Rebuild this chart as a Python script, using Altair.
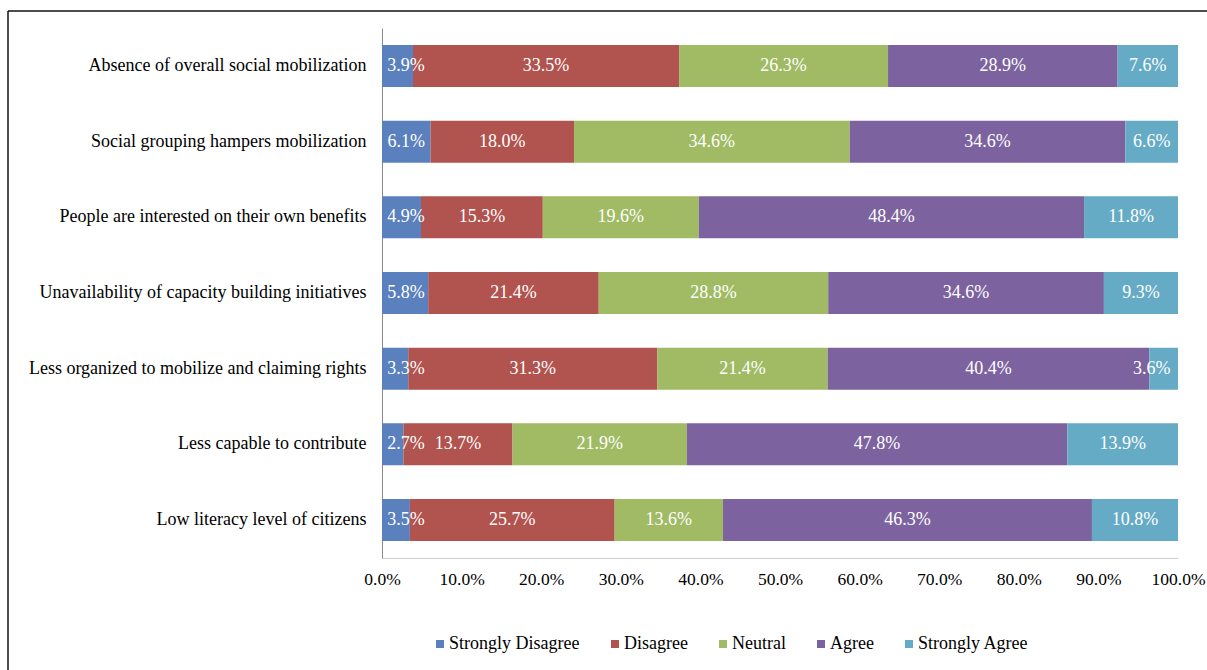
import altair as alt
import pandas as pd

items = [
    "Absence of overall social mobilization",
    "Social grouping hampers mobilization",
    "People are interested on their own benefits",
    "Unavailability of capacity building initiatives",
    "Less organized to mobilize and claiming rights",
    "Less capable to contribute",
    "Low literacy level of citizens",
]
levels = ["Strongly Disagree", "Disagree", "Neutral", "Agree", "Strongly Agree"]
colors = ["#5A80BE", "#B1534E", "#A0BB63", "#7C639F", "#65ABC6"]

strongly_disagree = [3.9, 6.1, 4.9, 5.8, 3.3, 2.7, 3.5]
disagree = [33.5, 18.0, 15.3, 21.4, 31.3, 13.7, 25.7]
neutral = [26.3, 34.6, 19.6, 28.8, 21.4, 21.9, 13.6]
agree = [28.9, 34.6, 48.4, 34.6, 40.4, 47.8, 46.3]
strongly_agree = [7.6, 6.6, 11.8, 9.3, 3.6, 13.9, 10.8]
x_ticks = [0, 0.1, 0.2, 0.3, 0.4, 0.5, 0.6, 0.7, 0.8, 0.9, 1.0]

series = [strongly_disagree, disagree, neutral, agree, strongly_agree]
rows = []
for k, (lvl, vals) in enumerate(zip(levels, series)):
    for it, v in zip(items, vals):
        rows.append({"item": it, "level": lvl, "ord": k, "value": v})
df = pd.DataFrame(rows)

FONT = "'Liberation Serif', 'Times New Roman', 'DejaVu Serif', serif"
W, H = 796, 530

base = alt.Chart(df).transform_stack(
    stack="value", as_=["x0", "x1"], groupby=["item"],
    sort=[alt.SortField("ord", order="ascending")], offset="normalize"
).transform_calculate(
    mid="clamp((datum.x0 + datum.x1) / 2, 0.03, 0.967)",
    lab="format(datum.value, '.1f') + '%'"
)

yenc = alt.Y("item:N", sort=items, title=None,
             scale=alt.Scale(paddingInner=0.445, paddingOuter=0.225),
             axis=alt.Axis(labelFont=FONT, labelFontSize=18, labelColor="#000",
                           labelPadding=16, ticks=False, domainColor="#8a8a8a",
                           labelLimit=400))

bars = base.mark_bar().encode(
    x=alt.X("x0:Q", title=None, scale=alt.Scale(domain=[0, 1], nice=False),
            axis=alt.Axis(values=x_ticks, format=".1%", labelFont=FONT,
                          labelFontSize=17.5, labelColor="#000", labelPadding=12,
                          labelFlush=False, labelOverlap=False,
                          ticks=False, grid=False, domainColor="#cfcfcf")),
    x2="x1:Q",
    y=yenc,
    color=alt.Color("level:N", sort=levels,
                    scale=alt.Scale(domain=levels, range=colors),
                    legend=alt.Legend(title=None, orient="none", direction="horizontal",
                                      legendX=49, legendY=607,
                                      symbolType="square", symbolSize=64,
                                      symbolStrokeWidth=0,
                                      labelFont=FONT, labelFontSize=18,
                                      labelColor="#000", labelOffset=0,
                                      columnPadding=26)),
    order=alt.Order("ord:Q"),
)

labels = base.mark_text(font=FONT, fontSize=18, color="white", baseline="middle").encode(
    x=alt.X("mid:Q"),
    y=alt.Y("item:N", sort=items),
    text="lab:N",
)

frame_top = alt.Chart(pd.DataFrame({"a": [0]})).mark_rule(
    color="#111", strokeWidth=1.5, clip=False
).encode(x=alt.value(-374), x2=alt.value(840), y=alt.value(-17))
frame_left = alt.Chart(pd.DataFrame({"a": [0]})).mark_rule(
    color="#111", strokeWidth=1.5, clip=False
).encode(x=alt.value(-374), y=alt.value(-17), y2=alt.value(660))

chart = alt.layer(bars, labels, frame_top, frame_left).properties(
    width=W, height=H,
    autosize=alt.AutoSizeParams(type="none"),
    padding={"left": 382, "top": 28, "right": 29, "bottom": 112},
    background="white",
).configure_view(stroke=None)

chart.save("out.html", embed_options={"renderer": "svg", "actions": False})
